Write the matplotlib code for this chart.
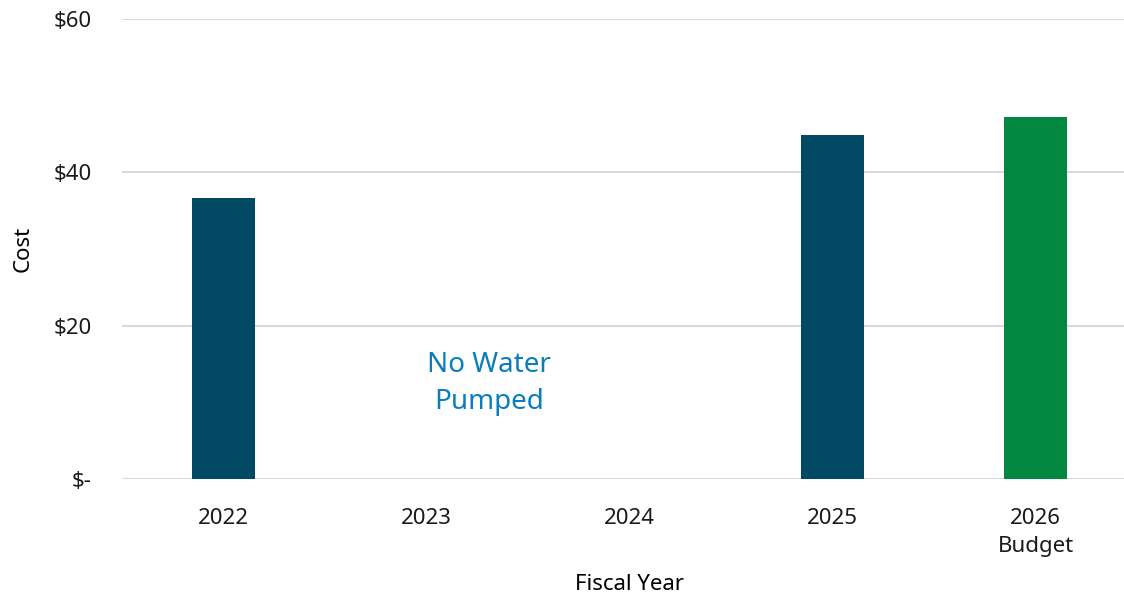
import matplotlib.pyplot as plt

# fiscal year pumping cost
years = ['2022', '2023', '2024', '2025', '2026\nBudget']
cost = [36.7, 0, 0, 44.9, 47.2]
bar_colors = ['#024A63', '#024A63', '#024A63', '#024A63', '#01873F']
yticks = [0, 20, 40, 60]
ytick_labels = ['$-', '$20', '$40', '$60']
note = 'No Water\nPumped'

plt.rcParams['font.family'] = ['Noto Sans', 'DejaVu Sans']

fig = plt.figure(figsize=(11.24, 5.99), dpi=100)
ax = fig.add_axes([122 / 1124, 120 / 599, 1015 / 1124, 460 / 599])

x = list(range(len(years)))
ax.bar(x, cost, width=0.315, color=bar_colors, zorder=3)

ax.set_xlim(-0.5, 4.5)
ax.set_ylim(0, 60)
ax.set_yticks(yticks)
ax.set_yticklabels(ytick_labels)
ax.set_xticks(x)
ax.set_xticklabels(years, linespacing=1.45)
ax.tick_params(axis='both', length=0, labelsize=16, colors='#1a1a1a')
ax.tick_params(axis='x', pad=21)
ax.tick_params(axis='y', pad=22)
ax.grid(axis='y', color='#D9D9D9', linewidth=1.5, zorder=0)
for s in ax.spines.values():
    s.set_visible(False)

ax.text(1.31, 12.5, note, ha='center', va='center', fontsize=20,
        color='#0A7DBC', linespacing=1.42)

ax.set_ylabel('Cost', fontsize=16, labelpad=14)
ax.set_xlabel('Fiscal Year', fontsize=16, labelpad=12)

fig.savefig('out.png', dpi=100)
